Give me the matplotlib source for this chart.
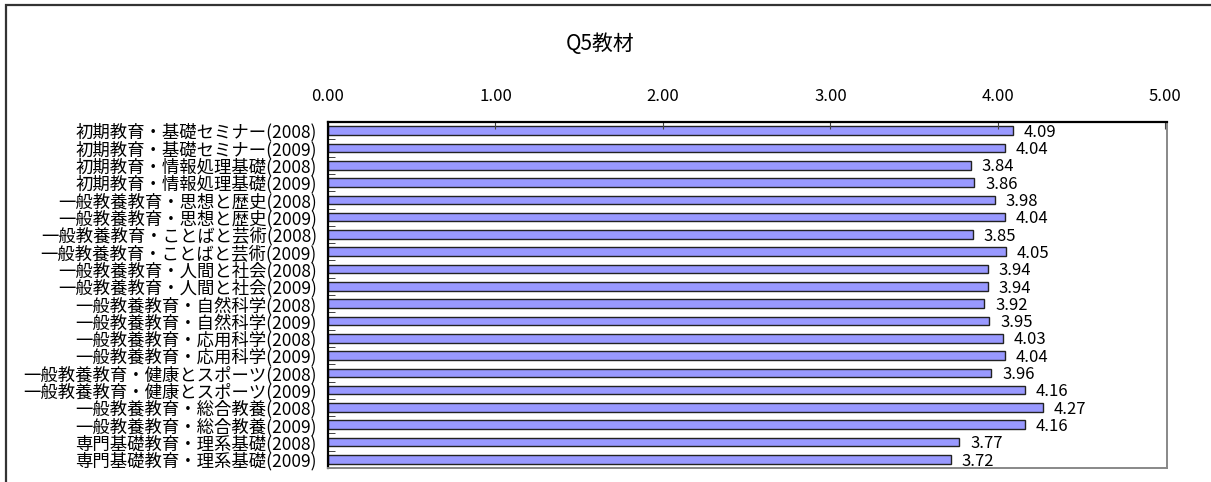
import numpy as np
from matplotlib import pyplot as plt
from matplotlib.patches import Rectangle

plt.rcParams['font.family'] = ['Noto Sans CJK JP', 'DejaVu Sans']

categories = [
    "初期教育・基礎セミナー(2008)",
    "初期教育・基礎セミナー(2009)",
    "初期教育・情報処理基礎(2008)",
    "初期教育・情報処理基礎(2009)",
    "一般教養教育・思想と歴史(2008)",
    "一般教養教育・思想と歴史(2009)",
    "一般教養教育・ことばと芸術(2008)",
    "一般教養教育・ことばと芸術(2009)",
    "一般教養教育・人間と社会(2008)",
    "一般教養教育・人間と社会(2009)",
    "一般教養教育・自然科学(2008)",
    "一般教養教育・自然科学(2009)",
    "一般教養教育・応用科学(2008)",
    "一般教養教育・応用科学(2009)",
    "一般教養教育・健康とスポーツ(2008)",
    "一般教養教育・健康とスポーツ(2009)",
    "一般教養教育・総合教養(2008)",
    "一般教養教育・総合教養(2009)",
    "専門基礎教育・理系基礎(2008)",
    "専門基礎教育・理系基礎(2009)",
]
values = [4.09, 4.04, 3.84, 3.86, 3.98, 4.04, 3.85, 4.05, 3.94, 3.94,
          3.92, 3.95, 4.03, 4.04, 3.96, 4.16, 4.27, 4.16, 3.77, 3.72]
xticks = [0, 1, 2, 3, 4, 5]

fig = plt.figure(figsize=(12.11, 4.82), dpi=100)
ax = fig.add_axes([328 / 1211, 1 - 468 / 482, 839 / 1211, 346 / 482])

y = np.arange(len(categories))
ax.barh(y, values, height=0.5, color="#9999ff", edgecolor="#222222", linewidth=1.0)

for yi, v in zip(y, values):
    ax.text(v + 0.065, yi + 0.1, f"{v:.2f}", va="center", ha="left", fontsize=12)

ax.set_xlim(0, 5.01)
ax.set_ylim(len(categories) - 0.5, -0.5)
ax.xaxis.tick_top()
ax.set_xticks(xticks)
ax.set_xticklabels([f"{t:.2f}" for t in xticks], fontsize=12)
ax.tick_params(axis="x", direction="in", length=5, pad=12, color="#444444")

ax.set_yticks(y)
ax.set_yticklabels(categories, fontsize=12.5)
ax.tick_params(axis="y", which="major", length=0, pad=8)
ax.set_yticks(np.arange(len(categories)) + 0.5, minor=True)
ax.tick_params(axis="y", which="minor", direction="in", length=5, color="#222222")

ax.spines["top"].set_color("black")
ax.spines["left"].set_color("black")
ax.spines["top"].set_linewidth(1.6)
ax.spines["left"].set_linewidth(1.6)
ax.spines["right"].set_color("#888888")
ax.spines["bottom"].set_color("#888888")
ax.spines["right"].set_linewidth(1.4)
ax.spines["bottom"].set_linewidth(1.4)

fig.text(600 / 1211, 1 - 44 / 482, "Q5教材", ha="center", va="center", fontsize=15)

# outer chart frame (runs off the right and bottom of the image)
fig.add_artist(Rectangle((6 / 1211, -0.2), 1.2, 1.2 - 5 / 482, transform=fig.transFigure,
                         fill=False, edgecolor="#333333", linewidth=1.6))

fig.savefig("out.png", dpi=100)
